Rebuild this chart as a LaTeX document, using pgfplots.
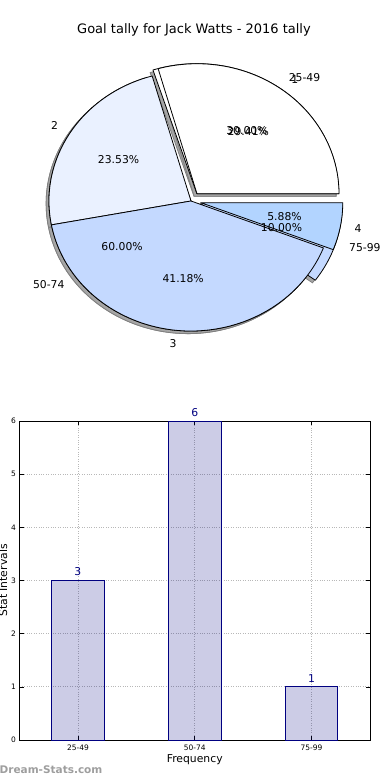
\documentclass[border=0pt]{standalone}
\usepackage{fontspec}
\setmainfont{DejaVu Sans}
\usepackage{pgfplots}
\pgfplotsset{compat=1.18}
\definecolor{cA}{HTML}{FFFFFF}
\definecolor{cB}{HTML}{EAF1FF}
\definecolor{cC}{HTML}{C4D9FF}
\definecolor{cD}{HTML}{B2D4FF}
\definecolor{navyc}{HTML}{000080}
\newcommand\lblfont{\fontsize{10.8}{12}\selectfont}
% pie wedge: #1 cumulative start, #2 value, #3 total, #4 explode, #5 colour
\newcommand\pieslice[5]{%
  \pgfmathsetmacro\angA{360*#1/#3}%
  \pgfmathsetmacro\angB{360*(#1+#2)/#3}%
  \pgfmathsetmacro\angM{(\angA+\angB)/2}%
  \pgfmathsetmacro\ox{#4*cos(\angM)}%
  \pgfmathsetmacro\oy{#4*sin(\angM)}%
  \pgfmathsetmacro\px{\ox+cos(\angA)}%
  \pgfmathsetmacro\py{\oy+sin(\angA)}%
  \edef\tmp{\noexpand\filldraw[fill=#5,draw=black,line width=0.8pt,line join=round] (axis cs:\ox,\oy) -- (axis cs:\px,\py) arc[start angle=\angA, end angle=\angB, x radius=142pt, y radius=130pt] -- cycle;}\tmp}
\newcommand\pieshadow[4]{%
  \pgfmathsetmacro\angA{360*#1/#3}%
  \pgfmathsetmacro\angB{360*(#1+#2)/#3}%
  \pgfmathsetmacro\angM{(\angA+\angB)/2}%
  \pgfmathsetmacro\ox{#4*cos(\angM)-0.02}%
  \pgfmathsetmacro\oy{#4*sin(\angM)-0.02}%
  \pgfmathsetmacro\px{\ox+cos(\angA)}%
  \pgfmathsetmacro\py{\oy+sin(\angA)}%
  \edef\tmp{\noexpand\filldraw[fill=black!35,draw=black!50,line width=0.8pt] (axis cs:\ox,\oy) -- (axis cs:\px,\py) arc[start angle=\angA, end angle=\angB, x radius=142pt, y radius=130pt] -- cycle;}\tmp}
% labels: #1 cum, #2 value, #3 total, #4 explode, #5 label, #6 percent text
\newcommand\pielabels[6]{%
  \pgfmathsetmacro\angM{360*(#1+#2/2)/#3}%
  \pgfmathsetmacro\lx{(#4+1.1)*cos(\angM)}%
  \pgfmathsetmacro\ly{(#4+1.1)*sin(\angM)}%
  \pgfmathsetmacro\tx{(#4+0.6)*cos(\angM)}%
  \pgfmathsetmacro\ty{(#4+0.6)*sin(\angM)}%
  \pgfmathtruncatemacro\isright{cos(\angM)>0}%
  \ifnum\isright=1 \def\anch{west}\else\def\anch{east}\fi
  \edef\tmp{\noexpand\node[anchor=\anch,inner sep=0pt,font=\noexpand\lblfont] at (axis cs:\lx,\ly) {\unexpanded{#5}};
    \noexpand\node[anchor=center,inner sep=0pt,font=\noexpand\lblfont] at (axis cs:\tx,\ty) {\unexpanded{#6}};}\tmp}
\begin{document}
\begin{tikzpicture}
\useasboundingbox (0,0) rectangle (390pt,780pt);
\node[font=\fontsize{13}{15}\selectfont] at (194pt,750pt) {Goal tally for Jack Watts - 2016 tally};
% ---------- pie charts ----------
\begin{axis}[at={(191pt,579pt)}, anchor=origin, hide axis, x=142pt, y=130pt,
  xmin=-1.3, xmax=1.3, ymin=-1.3, ymax=1.3, clip=false]
% shadows (pie B: 3,6,1 ; pie A: 5,4,7,1)
\pieshadow{0}{3}{10}{0.07}
\pieshadow{3}{6}{10}{0}
\pieshadow{9}{1}{10}{0.07}
\pieshadow{0}{5}{17}{0.07}
\pieshadow{5}{4}{17}{0}
\pieshadow{9}{7}{17}{0}
\pieshadow{16}{1}{17}{0.07}
% pie B
\pieslice{0}{3}{10}{0.07}{cA}
\pieslice{3}{6}{10}{0}{cB}
\pieslice{9}{1}{10}{0.07}{cC}
% pie A
\pieslice{0}{5}{17}{0.07}{cA}
\pieslice{5}{4}{17}{0}{cB}
\pieslice{9}{7}{17}{0}{cC}
\pieslice{16}{1}{17}{0.07}{cD}
% labels
\pielabels{0}{3}{10}{0.07}{25-49}{30.00\%}
\pielabels{3}{6}{10}{0}{50-74}{60.00\%}
\pielabels{9}{1}{10}{0.07}{75-99}{10.00\%}
\pielabels{0}{5}{17}{0.07}{1}{29.41\%}
\pielabels{5}{4}{17}{0}{2}{23.53\%}
\pielabels{9}{7}{17}{0}{3}{41.18\%}
\pielabels{16}{1}{17}{0.07}{4}{5.88\%}
\end{axis}
% ---------- bar chart ----------
\begin{axis}[at={(19.5pt,40pt)}, anchor=south west, scale only axis,
  width=350.5pt, height=319pt,
  xmin=-0.5, xmax=2.5, ymin=0, ymax=6,
  xtick={0,1,2}, xticklabels={25-49,50-74,75-99},
  ytick={0,1,2,3,4,5,6},
  tick align=inside, major tick length=4pt,
  tick style={black, line width=0.6pt},
  grid=major, grid style={dotted, black!28, line width=0.8pt},
  axis line style={line width=0.8pt},
  ticklabel style={font=\fontsize{7.5}{9}\selectfont},
  xticklabel style={yshift=-1.5pt},
  /pgf/number format/assume math mode=true,
  xlabel={Frequency}, ylabel={Stat Intervals},
  label style={font=\lblfont},
  xlabel style={at={(axis description cs:0.5,-0.0627)}, anchor=center},
  ylabel style={at={(axis description cs:-0.047,0.5)}, anchor=center},
]
\addplot[ybar, bar width=0.45, fill=navyc, fill opacity=0.2, draw=navyc, draw opacity=1, line width=0.8pt,
  nodes near coords, nodes near coords style={text=navyc, font=\lblfont, text opacity=1, yshift=1pt}]
  coordinates {(0,3) (1,6) (2,1)};
\end{axis}
\node[anchor=west, inner sep=0pt, text=black!38, font=\bfseries\fontsize{10.5}{12}\selectfont] at (-0.5pt,10pt) {Dream-Stats.com};
\end{tikzpicture}
\end{document}
